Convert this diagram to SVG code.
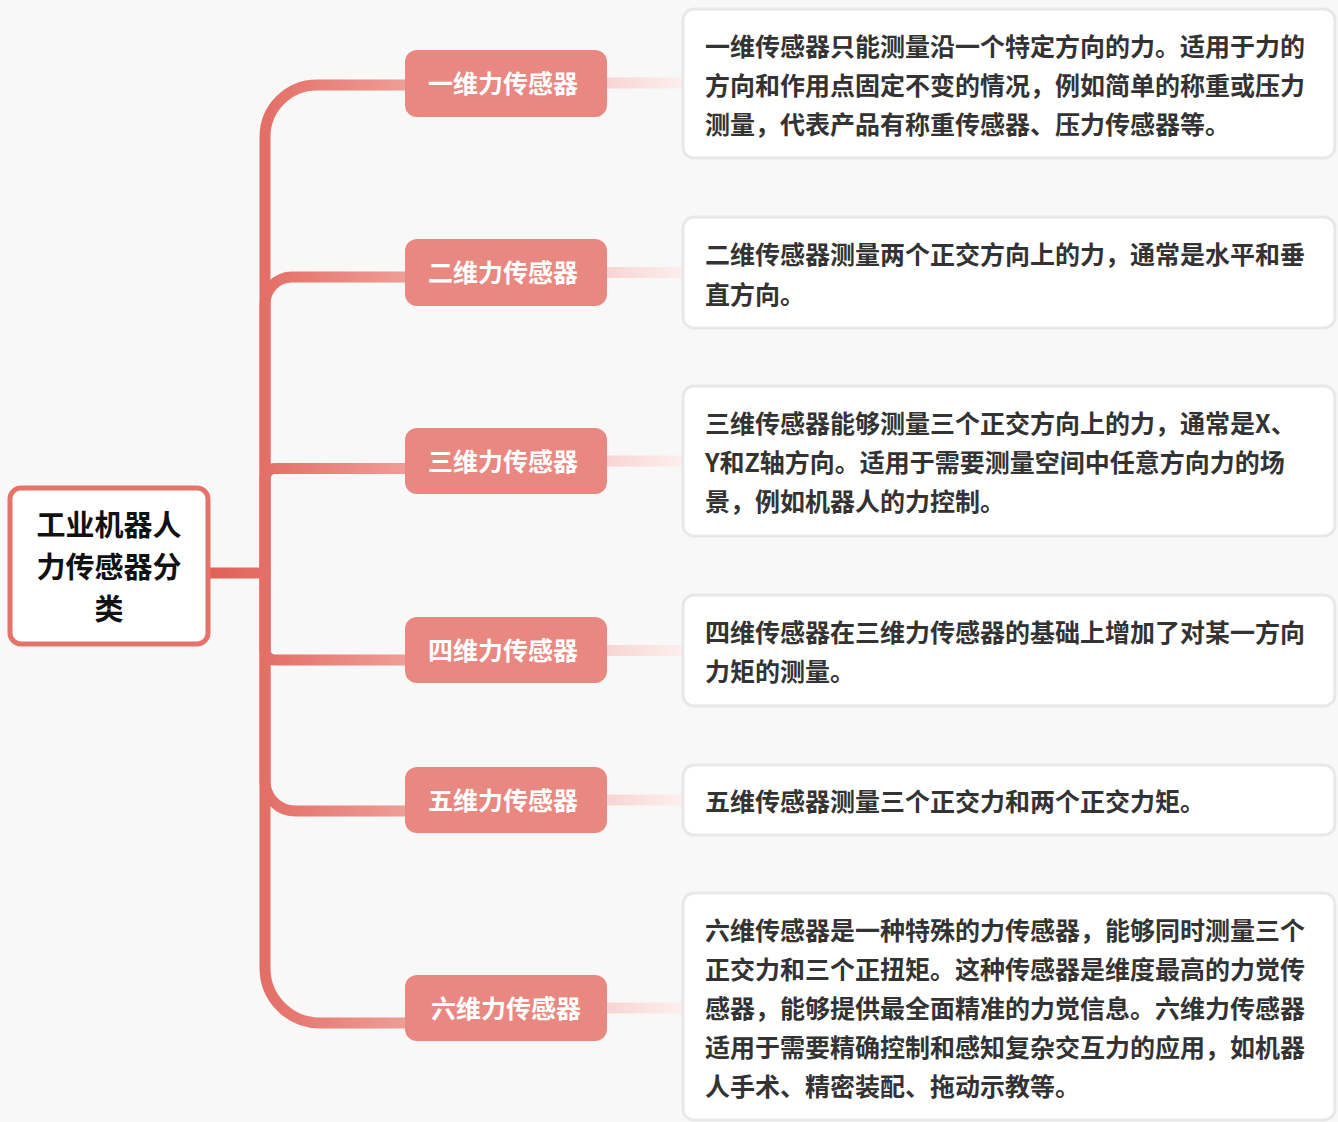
<svg xmlns="http://www.w3.org/2000/svg" width="1338" height="1122" viewBox="0 0 1338 1122">
<defs>
<linearGradient id="gBranch" gradientUnits="userSpaceOnUse" x1="265" y1="0" x2="405" y2="0">
<stop offset="0" stop-color="#e36f67"/>
<stop offset="1" stop-color="#ef9d96"/>
</linearGradient>
<linearGradient id="gRoot" gradientUnits="userSpaceOnUse" x1="208" y1="0" x2="268" y2="0">
<stop offset="0" stop-color="#df5f55"/>
<stop offset="1" stop-color="#e4716a"/>
</linearGradient>
<linearGradient id="gLeaf" gradientUnits="userSpaceOnUse" x1="607" y1="0" x2="683" y2="0">
<stop offset="0" stop-color="#f8d5d2"/>
<stop offset="1" stop-color="#fcefee"/>
</linearGradient>
<style>
.branch{fill:none;stroke:url(#gBranch);stroke-width:11}
.leafline{fill:none;stroke:url(#gLeaf);stroke-width:11}
.node rect{fill:#e98880}
.node text{fill:#ffffff;font-family:"Noto Sans CJK SC","Noto Sans",sans-serif;font-weight:bold;font-size:25px;text-anchor:middle}
.desc rect{fill:#ffffff;stroke:#e8e8e8;stroke-width:3}
.desc text{fill:#333333;font-family:"Noto Sans CJK SC","Noto Sans",sans-serif;font-weight:bold;font-size:25px}
.root rect{fill:#ffffff;stroke:#e5736a;stroke-width:5}
.root text{fill:#111111;font-family:"Noto Sans CJK SC","Noto Sans",sans-serif;font-weight:bold;font-size:29px;text-anchor:middle}
</style>
</defs>
<rect x="0" y="0" width="1338" height="1122" fill="#f8f8f8"/>

<g id="connectors">
<path class="branch" d="M265,573 V137 A52,52 0 0 1 317,85 H410"/>
<path class="branch" d="M265,573 V304 A27,27 0 0 1 292,277 H410"/>
<path class="branch" d="M265,573 V478.5 A10,10 0 0 1 275,468.5 H410"/>
<path class="branch" d="M265,573 V650 A10,10 0 0 0 275,660 H410"/>
<path class="branch" d="M265,573 V781 A30,30 0 0 0 295,811 H410"/>
<path class="branch" d="M265,573 V968 A55,55 0 0 0 320,1023 H410"/>
<path fill="none" stroke="url(#gRoot)" stroke-width="11" d="M205,573 H268"/>
<path class="leafline" d="M605,83 H685"/>
<path class="leafline" d="M605,272.5 H685"/>
<path class="leafline" d="M605,461 H685"/>
<path class="leafline" d="M605,650.5 H685"/>
<path class="leafline" d="M605,800 H685"/>
<path class="leafline" d="M605,1008 H685"/>
</g>

<g id="root" class="root">
<rect x="10" y="488" width="198" height="156" rx="11"/>
<text x="109" y="536">工业机器人</text>
<text x="109" y="578">力传感器分</text>
<text x="109" y="620">类</text>
</g>

<g id="n1" class="node"><rect x="405" y="50" width="202" height="67" rx="12"/><text x="503" y="93">一维力传感器</text></g>
<g id="n2" class="node"><rect x="405" y="239" width="202" height="67" rx="12"/><text x="503" y="282">二维力传感器</text></g>
<g id="n3" class="node"><rect x="405" y="428" width="202" height="66" rx="12"/><text x="503" y="470.5">三维力传感器</text></g>
<g id="n4" class="node"><rect x="405" y="617" width="202" height="66" rx="12"/><text x="503" y="660">四维力传感器</text></g>
<g id="n5" class="node"><rect x="405" y="767" width="202" height="66" rx="12"/><text x="503" y="809.5">五维力传感器</text></g>
<g id="n6" class="node"><rect x="405" y="975" width="202" height="66" rx="12"/><text x="506" y="1017.5">六维力传感器</text></g>

<g id="d1" class="desc"><rect x="683" y="9" width="652" height="149" rx="11"/>
<text x="705" y="55.5">一维传感器只能测量沿一个特定方向的力。适用于力的</text>
<text x="705" y="94.5">方向和作用点固定不变的情况，例如简单的称重或压力</text>
<text x="705" y="133.5">测量，代表产品有称重传感器、压力传感器等。</text></g>
<g id="d2" class="desc"><rect x="683" y="217" width="652" height="111" rx="11"/>
<text x="705" y="263.5">二维传感器测量两个正交方向上的力，通常是水平和垂</text>
<text x="705" y="303.5">直方向。</text></g>
<g id="d3" class="desc"><rect x="683" y="386" width="652" height="150" rx="11"/>
<text x="705" y="432.5">三维传感器能够测量三个正交方向上的力，通常是X、</text>
<text x="705" y="472">Y和Z轴方向。适用于需要测量空间中任意方向力的场</text>
<text x="705" y="511">景，例如机器人的力控制。</text></g>
<g id="d4" class="desc"><rect x="683" y="595" width="652" height="111" rx="11"/>
<text x="705" y="641.5">四维传感器在三维力传感器的基础上增加了对某一方向</text>
<text x="705" y="680.5">力矩的测量。</text></g>
<g id="d5" class="desc"><rect x="683" y="765" width="652" height="70" rx="11"/>
<text x="705" y="811">五维传感器测量三个正交力和两个正交力矩。</text></g>
<g id="d6" class="desc"><rect x="683" y="893" width="652" height="227" rx="11"/>
<text x="705" y="940">六维传感器是一种特殊的力传感器，能够同时测量三个</text>
<text x="705" y="979">正交力和三个正扭矩。这种传感器是维度最高的力觉传</text>
<text x="705" y="1018">感器，能够提供最全面精准的力觉信息。六维力传感器</text>
<text x="705" y="1057">适用于需要精确控制和感知复杂交互力的应用，如机器</text>
<text x="705" y="1096">人手术、精密装配、拖动示教等。</text></g>
</svg>
